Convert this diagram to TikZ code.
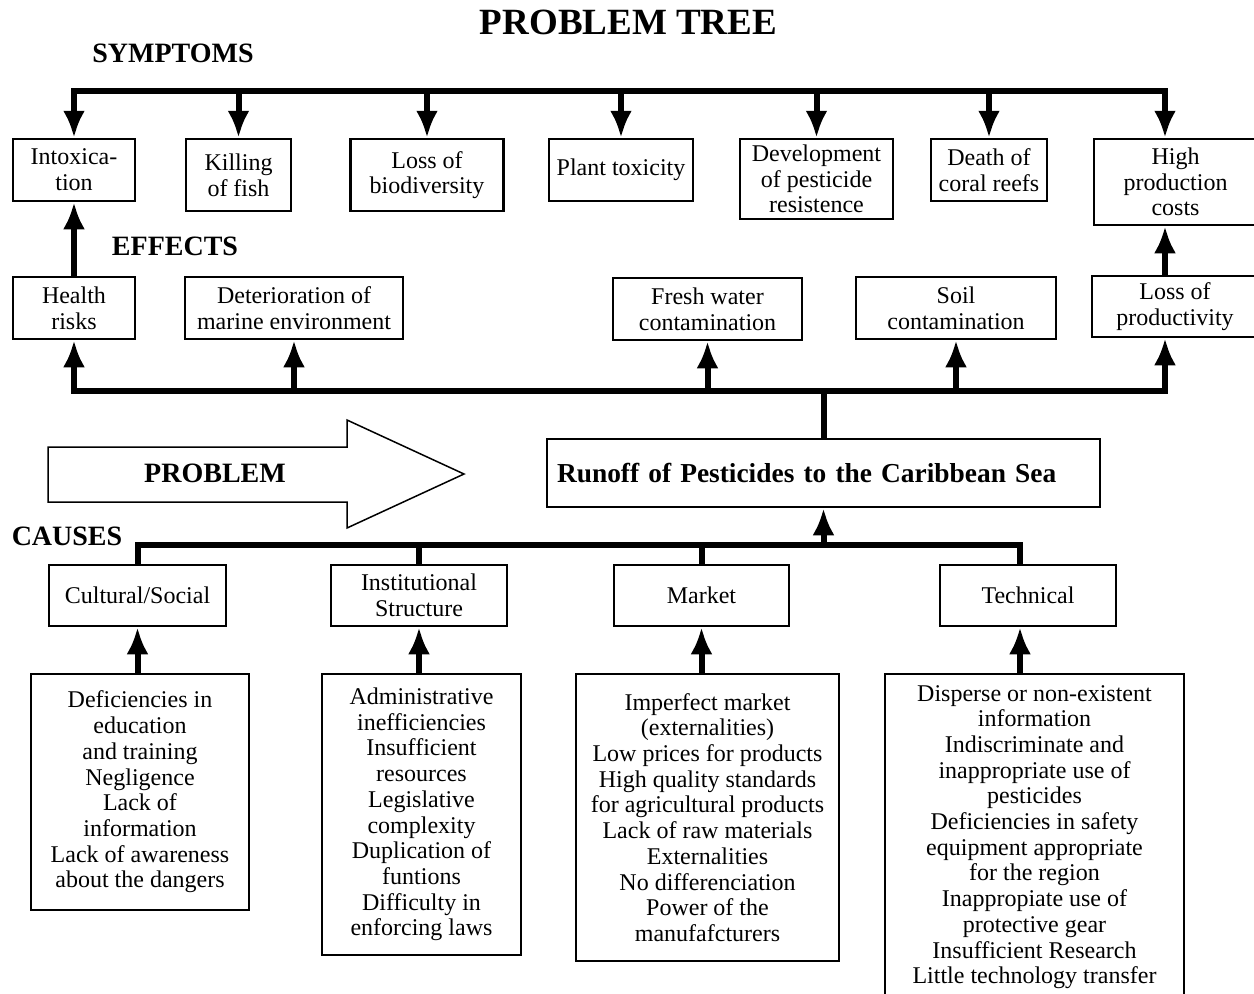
\documentclass[tikz,border=0pt]{standalone}
\usepackage{fontspec}
\setmainfont{Liberation Serif}
\usetikzlibrary{arrows.meta}

\begin{document}
\begin{tikzpicture}[x=1pt, y=-1pt, >={Latex[length=27pt,width=22pt]},
                    box/.style = {draw, line width=2.5pt, align=center, inner sep=0pt,
                                  font=\fontsize{24}{25.7}\selectfont},
                    boxsize/.style 2 args = {minimum width=#1pt, minimum height=#2pt},
                    heading/.style = {font=\bfseries\fontsize{28}{32}\selectfont},
                    bus/.style = {line width=6pt, line cap=rect},
                    drop/.style = {line width=6pt},
                    flow/.style = {->, line width=6pt}]
  \useasboundingbox (0,0) rectangle (1254,994);
  \clip (0,0) rectangle (1254,994);

  % headings
  \node [heading, font=\bfseries\fontsize{37}{40}\selectfont] (title) at (628.5,22.5) {PROBLEM TREE};
  \node [heading] (symptoms) at (173,53) {SYMPTOMS};
  \node [heading] (effects) at (175,246) {EFFECTS};
  \node [heading] (causes) at (67,536) {CAUSES};

  % symptoms
  \node [box, boxsize={122}{62}] (intox) at (74,170) {Intoxica-\\tion};
  \node [box, boxsize={105}{72}] (kill) at (238.5,175) {Killing\\of fish};
  \node [box, boxsize={153}{72}] (biodiv) at (427,175) {Loss of\\biodiversity};
  \node [box, boxsize={144}{62}] (plant) at (621,170) {Plant toxicity};
  \node [box, boxsize={153}{80}] (resist) at (816.5,179) {Development\\of pesticide\\resistence};
  \node [box, boxsize={116}{62}] (coral) at (989,170) {Death of\\coral reefs};
  \node [box, boxsize={163}{86}] (high) at (1175.5,182) {High\\production\\costs};

  % effects
  \node [box, boxsize={122}{62}] (health) at (74,308) {Health\\risks};
  \node [box, boxsize={218}{62}] (marine) at (294,308) {Deterioration of\\marine environment};
  \node [box, boxsize={189}{62}] (fresh) at (707.5,309) {Fresh water\\contamination};
  \node [box, boxsize={200}{62}] (soil) at (956,308) {Soil\\contamination};
  \node [box, boxsize={166}{61}] (lossprod) at (1175,306.5) {Loss of\\productivity};

  % problem
  \node [box, heading, font=\bfseries\fontsize{27.4}{32}\selectfont, text width=533pt,
         align=left, inner xsep=10pt, minimum height=68pt]
    (problem) at (823.5,473) {Runoff of Pesticides to the Caribbean Sea};
  \draw [line width=1.5pt] (48,447) -- (347,447) -- (347,420) -- (464,474)
    -- (347,528) -- (347,502) -- (48,502) -- cycle;
  \node [heading] (problemlabel) at (215,473) {PROBLEM};

  % causes
  \node [box, boxsize={177}{61}] (cultural) at (137.5,595.5) {Cultural/Social};
  \node [box, boxsize={176}{61}] (instit) at (419,595.5) {Institutional\\Structure};
  \node [box, boxsize={175}{61}] (market) at (701.5,595.5) {Market};
  \node [box, boxsize={176}{61}] (technical) at (1028,595.5) {Technical};

  \node [box, boxsize={218}{236}] (cultdet) at (140,792)
    {Deficiencies in\\education\\and training\\Negligence\\Lack of\\information\\Lack of awareness\\about the dangers};
  \node [box, boxsize={199}{281}] (instdet) at (421.5,814.5)
    {Administrative\\inefficiencies\\Insufficient\\resources\\Legislative\\complexity\\Duplication of\\funtions\\Difficulty in\\enforcing laws};
  \node [box, boxsize={263}{287}] (markdet) at (707.5,817.5)
    {Imperfect market\\(externalities)\\Low prices for products\\High quality standards\\for agricultural products\\Lack of raw materials\\Externalities\\No differenciation\\Power of the\\manufafcturers};
  \node [box, boxsize={299}{326}] (techdet) at (1034.5,837)
    {Disperse or non-existent\\information\\Indiscriminate and\\inappropriate use of\\pesticides\\Deficiencies in safety\\equipment appropriate\\for the region\\Inappropiate use of\\protective gear\\Insufficient Research\\Little technology transfer};

  % buses
  \coordinate (symbus) at (0,91);
  \coordinate (effbus) at (0,391);
  \coordinate (causebus) at (0,545);
  \coordinate (rcol) at (1165,0);
  \coordinate (tcol) at (1020,0);

  \draw [bus] (intox.north |- symbus) -- (rcol |- symbus);
  \foreach \s in {intox, kill, biodiv, plant, resist, coral}
    \draw [flow] (\s.north |- symbus) -- (\s.north);
  \draw [flow] (rcol |- symbus) -- (rcol |- high.north);

  \draw [flow] (health.north) -- (intox.south);
  \draw [flow] (rcol |- lossprod.north) -- (rcol |- high.south);

  \draw [bus] (health.south |- effbus) -- (rcol |- effbus);
  \draw [drop] (problem.north) -- (problem.north |- effbus);
  \foreach \e in {health, marine, fresh, soil}
    \draw [flow] (\e.south |- effbus) -- (\e.south);
  \draw [flow] (rcol |- effbus) -- (rcol |- lossprod.south);

  \draw [bus] (cultural.north |- causebus) -- (tcol |- causebus);
  \foreach \c in {cultural, instit, market}
    \draw [drop] (\c.north |- causebus) -- (\c.north);
  \draw [drop] (tcol |- causebus) -- (tcol |- technical.north);
  \draw [flow] (problem.south |- causebus) -- (problem.south);
  \foreach \c/\d in {cultural/cultdet, instit/instdet, market/markdet}
    \draw [flow] (\c.south |- \d.north) -- (\c.south);
  \draw [flow] (tcol |- techdet.north) -- (tcol |- technical.south);
\end{tikzpicture}
\end{document}
